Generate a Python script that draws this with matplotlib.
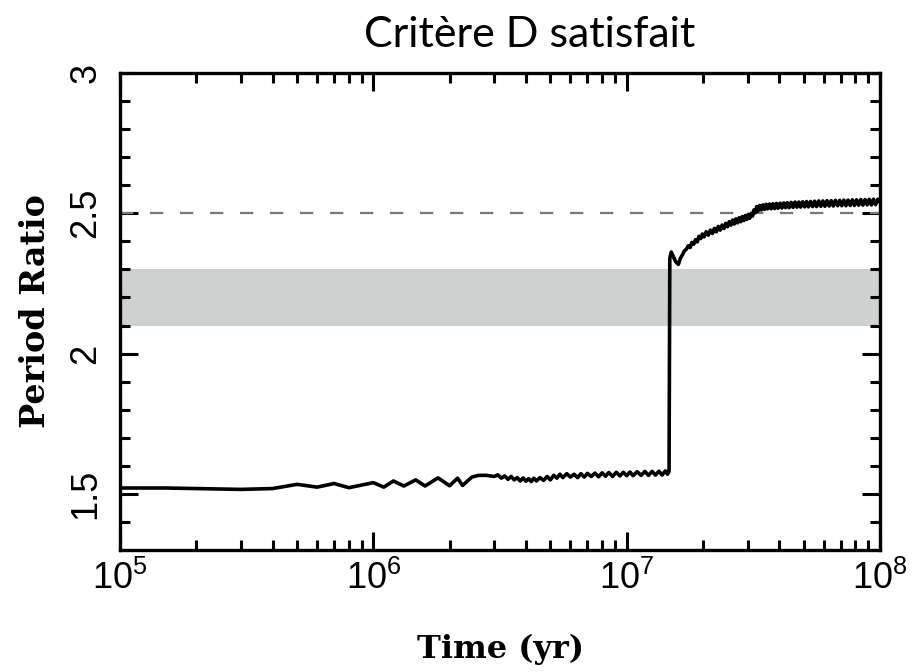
import matplotlib
matplotlib.use("Agg")
import matplotlib.pyplot as plt
from matplotlib.ticker import FixedLocator, NullFormatter

plt.rcParams["mathtext.fontset"] = "custom"
plt.rcParams["mathtext.rm"] = "Liberation Sans"
plt.rcParams["mathtext.it"] = "Liberation Sans"
plt.rcParams["font.family"] = ["Liberation Sans", "DejaVu Sans"]

# ---- data; time in Myr ----
time_low = [0.10, 0.15, 0.20, 0.30, 0.40, 0.50, 0.60, 0.70, 0.80, 1.00,
            1.10, 1.20, 1.32, 1.47, 1.60, 1.80, 2.00, 2.15, 2.25, 2.45,
            2.60, 2.80, 3.00, 3.10, 3.20, 3.30, 3.40, 3.50, 3.60, 3.70,
            3.80, 3.90, 4.00, 4.10, 4.20, 4.30, 4.40, 4.55, 4.70, 4.85,
            5.00, 5.15, 5.30, 5.45, 5.60, 5.80, 6.00, 6.20, 6.40, 6.60,
            6.80, 7.00, 7.25, 7.50, 7.75, 8.00, 8.25, 8.50, 8.80, 9.10,
            9.40, 9.70, 10.0, 10.3, 10.6, 11.0, 11.4, 11.8, 12.2, 12.6,
            13.0, 13.4, 13.8, 14.2, 14.5, 14.7]
ratio_low = [1.521, 1.521, 1.519, 1.516, 1.519, 1.534, 1.524, 1.537, 1.522, 1.540,
             1.524, 1.546, 1.528, 1.550, 1.528, 1.557, 1.529, 1.556, 1.530, 1.560,
             1.566, 1.566, 1.562, 1.568, 1.556, 1.564, 1.552, 1.562, 1.550, 1.558,
             1.546, 1.557, 1.545, 1.554, 1.544, 1.556, 1.546, 1.558, 1.548, 1.562,
             1.550, 1.566, 1.556, 1.570, 1.558, 1.572, 1.560, 1.570, 1.558, 1.572,
             1.560, 1.573, 1.562, 1.574, 1.561, 1.575, 1.563, 1.576, 1.562, 1.577,
             1.564, 1.577, 1.565, 1.578, 1.565, 1.579, 1.566, 1.580, 1.566, 1.580,
             1.567, 1.581, 1.567, 1.582, 1.570, 1.580]

time_high = [14.8, 15.0, 15.3, 15.6, 16.0, 16.3, 16.6, 16.9, 17.2, 17.5,
             17.8, 18.1, 18.4, 18.7, 19.0, 19.3, 19.6, 19.9, 20.2, 20.6,
             21.0, 21.4, 21.8, 22.2, 22.6, 23.0, 23.4, 23.8, 24.2, 24.6,
             25.0, 25.4, 25.8, 26.2, 26.6, 27.0, 27.4, 27.8, 28.2, 28.6,
             29.0, 29.4, 29.8, 30.2, 30.6, 31.0, 31.4, 31.8, 32.2, 32.6,
             33.0, 33.5, 34.0, 34.5, 35.0, 35.5, 36.0, 36.6, 37.2, 37.8,
             38.4, 39.0, 39.6, 40.3, 41.0, 41.7, 42.4, 43.1, 43.8, 44.6,
             45.4, 46.2, 47.0, 47.8, 48.6, 49.5, 50.4, 51.3, 52.2, 53.2,
             54.2, 55.2, 56.2, 57.3, 58.4, 59.5, 60.6, 61.8, 63.0, 64.2,
             65.4, 66.7, 68.0, 69.3, 70.6, 72.0, 73.4, 74.8, 76.3, 77.8,
             79.3, 80.8, 82.4, 84.0, 85.6, 87.3, 89.0, 90.7, 92.5, 94.3,
             96.1, 98.0, 100.0]
ratio_high = [2.340, 2.362, 2.345, 2.328, 2.318, 2.340, 2.352, 2.366, 2.372, 2.384,
              2.378, 2.396, 2.390, 2.406, 2.398, 2.418, 2.410, 2.426, 2.416, 2.434,
              2.422, 2.440, 2.428, 2.446, 2.434, 2.453, 2.440, 2.458, 2.446, 2.464,
              2.452, 2.470, 2.458, 2.476, 2.462, 2.480, 2.466, 2.484, 2.470, 2.488,
              2.474, 2.492, 2.478, 2.496, 2.482, 2.500, 2.490, 2.512, 2.502, 2.524,
              2.508, 2.528, 2.512, 2.530, 2.514, 2.532, 2.516, 2.533, 2.516, 2.534,
              2.517, 2.535, 2.518, 2.536, 2.519, 2.537, 2.520, 2.538, 2.520, 2.539,
              2.521, 2.540, 2.522, 2.540, 2.522, 2.541, 2.523, 2.542, 2.523, 2.542,
              2.524, 2.543, 2.524, 2.544, 2.525, 2.544, 2.525, 2.545, 2.526, 2.545,
              2.526, 2.546, 2.527, 2.546, 2.527, 2.547, 2.527, 2.547, 2.528, 2.548,
              2.528, 2.548, 2.529, 2.549, 2.529, 2.549, 2.530, 2.550, 2.530, 2.550,
              2.531, 2.550, 2.540]

resonance_ratio = 2.5
band_low, band_high = 2.1, 2.3
x_ticks = [1e5, 1e6, 1e7, 1e8]
x_ticklabels = ["$10^5$", "$10^6$", "$10^7$", "$10^8$"]
y_ticks = [1.5, 2.0, 2.5, 3.0]
y_ticklabels = ["1.5", "2", "2.5", "3"]
minor_y = [1.4, 1.6, 1.7, 1.8, 1.9, 2.1, 2.2, 2.3, 2.4, 2.6, 2.7, 2.8, 2.9]

times_yr = [t * 1e6 for t in time_low + time_high]
ratios = ratio_low + ratio_high

# ---- figure ----
fig = plt.figure(figsize=(9.13, 6.72), dpi=100)
ax = fig.add_axes([120/913, 1-550/672, (880-120)/913, (550-73)/672])

ax.axhspan(band_low, band_high, color="#cdd2d0", lw=0, zorder=1)
ax.axhline(resonance_ratio, color="#7a7a7a", lw=1.6, dashes=(6, 7.5), zorder=2)
ax.plot(times_yr, ratios, color="black", lw=2.6, zorder=3, solid_joinstyle="round")

ax.set_xscale("log")
ax.set_xlim(1e5, 1e8)
ax.set_ylim(1.3, 3.0)

ax.set_xticks(x_ticks)
ax.set_xticklabels(x_ticklabels)
ax.xaxis.set_minor_formatter(NullFormatter())
ax.yaxis.set_major_locator(FixedLocator(y_ticks))
ax.set_yticklabels(y_ticklabels, rotation=90, va="center")
ax.yaxis.set_minor_locator(FixedLocator(minor_y))

for s in ax.spines.values():
    s.set_linewidth(2.4)
ax.tick_params(which="both", direction="in", top=True, right=True, width=2.2)
ax.tick_params(which="major", length=13)
ax.tick_params(which="minor", length=7)
ax.tick_params(axis="x", which="major", labelsize=26, pad=8)
ax.tick_params(axis="y", which="major", labelsize=26, pad=12)

ax.set_xlabel("Time (yr)", family="DejaVu Serif", fontweight="bold", fontsize=23, labelpad=26)
ax.set_ylabel("Period Ratio", family="DejaVu Serif", fontweight="bold", fontsize=24, labelpad=12)

fig.text(530/913, 1-47/672, "Critère D satisfait", family="Lato", fontsize=31,
         ha="center", va="baseline")

fig.savefig("out.png", dpi=100)
